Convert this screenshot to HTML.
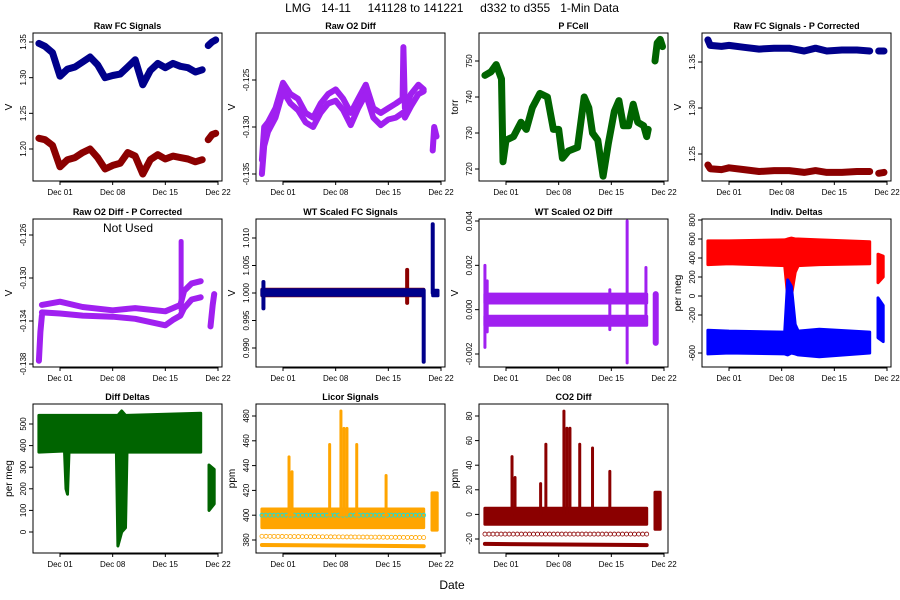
<!DOCTYPE html>
<html><head><meta charset="utf-8"><style>
html,body{margin:0;padding:0;background:#fff}
svg{display:block}
text{font-family:"Liberation Sans",sans-serif;white-space:pre}
</style></head><body>
<svg id="chart" width="900" height="600" xmlns="http://www.w3.org/2000/svg" xml:space="preserve">
<text x="452" y="12" font-size="12" text-anchor="middle" xml:space="preserve">LMG   14-11     141128 to 141221     d332 to d355   1-Min Data</text>
<text x="452" y="589" font-size="12" text-anchor="middle">Date</text>
</svg>
<script>
// shared x ticks (days since Dec 01)
const xTickDays=[0,7,14,21];
const xTickLabels=["Dec 01","Dec 08","Dec 15","Dec 22"];

// P1 Raw FC Signals
const p1Days=[-2.8,-2,-1,0,1,2,3,4,5,6,7,8,9,10,11,12,13,14,15,16,17,18,18.9];
const p1Blue=[1.348,1.344,1.335,1.302,1.312,1.315,1.322,1.329,1.318,1.300,1.303,1.305,1.315,1.325,1.290,1.310,1.320,1.314,1.320,1.316,1.314,1.308,1.311];
const p1Red=[1.215,1.213,1.205,1.175,1.185,1.188,1.195,1.200,1.188,1.172,1.177,1.180,1.195,1.190,1.165,1.185,1.192,1.186,1.190,1.188,1.186,1.182,1.185];
const p1Days2=[19.7,20.2,20.7];
const p1Blue2=[1.345,1.350,1.353];
const p1Red2=[1.213,1.220,1.222];
// P2 Raw O2 Diff
const p2Days=[-2.8,-2.5,-2,-1,0,1,2,3,4,5,6,7,8,9,10,11,12,13,14,15,15.9,16.0,16.2,17,18,18.7];
const p2Up=[-0.1335,-0.1300,-0.1295,-0.1280,-0.1253,-0.1265,-0.1270,-0.1285,-0.1290,-0.1275,-0.1265,-0.1260,-0.1270,-0.1285,-0.1270,-0.1255,-0.1280,-0.1285,-0.1280,-0.1275,-0.1270,-0.1215,-0.1280,-0.1265,-0.1255,-0.1260];
const p2Low=[-0.1350,-0.1320,-0.1305,-0.1290,-0.1262,-0.1275,-0.1282,-0.1295,-0.1300,-0.1285,-0.1275,-0.1272,-0.1282,-0.1298,-0.1280,-0.1265,-0.1290,-0.1298,-0.1292,-0.1290,-0.1285,-0.1285,-0.1290,-0.1278,-0.1265,-0.1262];
const p2Days2=[19.9,20.1,20.4];
const p2Vals2=[-0.1325,-0.1300,-0.1310];
// P3 P FCell
const p3Days=[-2.8,-2,-1.3,-0.6,-0.4,0,1,2,2.7,3.5,4.5,5.5,6.3,7,7.5,8.3,9.5,10.4,11,11.5,12.2,12.9,13.6,14.4,15,15.6,16.3,16.9,17.5,18.3,18.7,18.9];
const p3Vals=[746,747,749,745,722,728,729,733,731,737,741,740,731,731,723,725,726,740,737,730,728,718,727,736,739,732,732,738,733,732,729,731];
const p3Days2=[19.8,20.1,20.5,20.8];
const p3Vals2=[750,755,756,754];
// P4 Raw FC Signals - P Corrected
const p4Days=[-2.8,-2.5,-1,0,2,4,6,8,10,11.5,13,15,17,18.7];
const p4Blue=[1.374,1.368,1.367,1.368,1.366,1.364,1.365,1.365,1.362,1.365,1.362,1.363,1.363,1.362];
const p4Red=[1.238,1.234,1.233,1.235,1.233,1.231,1.232,1.232,1.230,1.232,1.230,1.230,1.231,1.231];
const p4Days2=[19.9,20.6];
const p4Blue2=[1.362,1.362];
const p4Red2=[1.229,1.230];
// P5 Raw O2 Diff - P Corrected
const p5Days=[-2.4,0,3,7,10,14,15,16,16.5,17.5,18.7];
const p5Up=[-0.1325,-0.1322,-0.1327,-0.1330,-0.1328,-0.1331,-0.1328,-0.1325,-0.1312,-0.1305,-0.1303];
const p5Low=[-0.1332,-0.1333,-0.1335,-0.1336,-0.1338,-0.1344,-0.1339,-0.1335,-0.1328,-0.1320,-0.1318];
const p5StartDays=[-2.8,-2.6,-2.4];
const p5StartVals=[-0.1377,-0.1350,-0.1335];
const p5SpikeDay=[16.1]; const p5SpikeLo=[-0.1330]; const p5SpikeHi=[-0.1266];
const p5Days2=[20.0,20.3,20.5];
const p5Vals2=[-0.1345,-0.1325,-0.1315];
// P6 WT Scaled FC
const p6BandDays=[-2.8,18.7]; const p6Lo=[0.9995,0.9995]; const p6Hi=[1.0007,1.0007];
const p6SpikeDays=[-2.6,16.5,18.7,19.9];
const p6SpikeLo=[0.9972,0.9982,0.9875,1.0000];
const p6SpikeHi=[1.0020,1.0042,1.0005,1.0125];
const p6SpikeCol=["b","r","b","b"];
const p6Days2=[19.9,20.6]; const p6Lo2=[0.9995,0.9995]; const p6Hi2=[1.0005,1.0005];
// P7 WT Scaled O2 Diff
const p7Days=[-2.8,18.7];
const p7UpLo=[0.0003,0.0003]; const p7UpHi=[0.0007,0.0007];
const p7LowLo=[-0.0007,-0.0007]; const p7LowHi=[-0.0003,-0.0003];
const p7SpikeDays=[-2.8,-2.5,13.8,16.1,18.6,19.9];
const p7SpikeLo=[-0.0017,-0.0010,-0.0009,-0.0024,-0.0006,-0.0015];
const p7SpikeHi=[0.0020,0.0013,0.0009,0.0040,0.0019,0.0007];
// P8 Indiv. Deltas
const p8Days=[-2.8,0,7.4,7.8,8.3,8.8,9.2,12,18.7];
const p8RedLo=[330,340,320,-10,0,250,320,330,340];
const p8RedHi=[580,580,590,600,610,600,600,590,570];
const p8BlueLo=[-610,-600,-610,-620,-600,-610,-620,-640,-600];
const p8BlueHi=[-360,-370,-380,170,100,-300,-370,-350,-380];
const p8Days2=[19.8,20.5]; const p8RedLo2=[140,200]; const p8RedHi2=[440,420];
const p8BlueLo2=[-440,-480]; const p8BlueHi2=[-20,-100];
// P9 Diff Deltas
const p9Days=[-2.8,0.6,0.8,1.0,1.2,7.5,7.7,8.2,8.7,8.9,18.7];
const p9Lo=[370,375,200,175,370,370,-65,0,20,370,370];
const p9Hi=[540,540,540,540,540,540,540,560,540,540,550];
const p9Days2=[19.8,20.5]; const p9Lo2=[100,130]; const p9Hi2=[310,290];
// P10 Licor Signals
const p10Days=[-2.8,18.7];
const p10BandLo=[390,390]; const p10BandHi=[405,405];
const p10Line1=[383,382]; const p10Line2=[376,375];
const p10Cyan=[400,400];
const p10SpikeDays=[0.8,1.2,6.2,7.7,8.1,8.5,9.8,13.7];
const p10SpikeHi=[447,435,457,484,470,470,457,432];
const p10Days2=[19.8,20.5]; const p10Lo2=[388,388]; const p10Hi2=[418,418];
// P11 CO2 Diff
const p11Days=[-2.8,18.7];
const p11BandLo=[-8,-8]; const p11BandHi=[5,5];
const p11Line1=[-16,-16]; const p11Line2=[-24,-25];
const p11SpikeDays=[0.8,1.2,4.6,5.3,7.7,8.1,8.5,9.8,11.5,13.8];
const p11SpikeHi=[47,30,25,57,84,70,70,57,54,35];
const p11Days2=[19.8,20.5]; const p11Lo2=[-12,-12]; const p11Hi2=[18,18];

const NS="http://www.w3.org/2000/svg";
const svg=document.getElementById('chart');
function mk(tag,attrs,parent){const e=document.createElementNS(NS,tag);for(const k in attrs)e.setAttribute(k,attrs[k]);(parent||svg).appendChild(e);return e;}
const COLX=[33,256,479,702], ROWY=[33,219,404], PW=189, PH=[148,148,149];
function xScale(col){const L=COLX[col];return d=>L+27+d*(158/21);}
function panel(name,col,row,title,ylab,ticks,tickLabels,ya,va,yb,vb){
  const g=mk('g',{});
  
  
  const L=COLX[col],T=ROWY[row],H=PH[row];
  const x=xScale(col);
  const y=v=>ya+(v-va)*(yb-ya)/(vb-va);
  const plot=mk('g',{},g);
  
  
  const frame=mk('rect',{x:L,y:T,width:PW,height:H,fill:'none',stroke:'#000','stroke-width':1},g);
  
  
  const t=mk('text',{x:L+PW/2,y:T-4,'font-size':9,'font-weight':'bold','text-anchor':'middle'},g);
  
  
  t.textContent=title;
  const yl=mk('text',{x:0,y:0,'font-size':10,'text-anchor':'middle',transform:`translate(${L-21},${T+H/2}) rotate(-90)`},g);
  
  
  yl.textContent=ylab;
  const yax=mk('g',{},g);
  
  
  ticks.forEach((v,i)=>{const yy=y(v);
    mk('line',{x1:L-4,x2:L,y1:yy,y2:yy,stroke:'#000'},yax);
    const tl=mk('text',{x:0,y:0,'font-size':8,'text-anchor':'middle',transform:`translate(${L-7},${yy}) rotate(-90)`},yax);
    
    
    tl.textContent=tickLabels[i];});
  const xax=mk('g',{},g);
  
  
  mk('line',{x1:x(xTickDays[0]),x2:x(xTickDays[xTickDays.length-1]),y1:T+H+1,y2:T+H+1,stroke:'#000'},xax);
  xTickDays.forEach((d,i)=>{const xx=x(d);
    mk('line',{x1:xx,x2:xx,y1:T+H,y2:T+H+4,stroke:'#000'},xax);
    const tl=mk('text',{x:xx,y:T+H+14,'font-size':8,'text-anchor':'middle'},xax);
    
    
    tl.textContent=xTickLabels[i];});
  return {g:plot,x,y};
}
function line(P,name,days,vals,color,w){
  const pts=days.map((d,i)=>P.x(d).toFixed(1)+','+P.y(vals[i]).toFixed(1)).join(' ');
  const e=mk('polyline',{points:pts,fill:'none',stroke:color,'stroke-width':w,'stroke-linecap':'round','stroke-linejoin':'round'},P.g);
  
  
}
function band(P,name,days,lo,hi,color,op){
  const top=days.map((d,i)=>P.x(d).toFixed(1)+','+P.y(hi[i]).toFixed(1));
  const bot=days.map((d,i)=>P.x(d).toFixed(1)+','+P.y(lo[i]).toFixed(1)).reverse();
  const e=mk('polygon',{points:top.concat(bot).join(' '),fill:color,stroke:color,'stroke-width':3,'stroke-linejoin':'round','fill-opacity':op||1},P.g);
  
  
}
function spike(P,name,d,lo,hi,color,w){
  const e=mk('line',{x1:P.x(d),x2:P.x(d),y1:P.y(lo),y2:P.y(hi),stroke:color,'stroke-width':w||3,'stroke-linecap':'round'},P.g);
  
  
}
function dots(P,name,days,vals,color){
  const g=mk('g',{},P.g);
  
  
  for(let i=0;i<days.length-1;i++){
    const n=Math.max(2,Math.round((P.x(days[i+1])-P.x(days[i]))/4));
    for(let k=0;k<=n;k++){const f=k/n;
      mk('circle',{cx:P.x(days[i]+(days[i+1]-days[i])*f),cy:P.y(vals[i]+(vals[i+1]-vals[i])*f),r:2,fill:'none',stroke:color,'stroke-width':0.8},g);}
  }
}
const NAVY='#00008b',DRED='#8b0000',PUR='#a020f0',DGRN='#006400',ORG='#ffa500';

let P=panel('raw-fc-signals',0,0,'Raw FC Signals','V',[1.20,1.25,1.30,1.35],['1.20','1.25','1.30','1.35'],149,1.20,42,1.35);
line(P,'blue-series',p1Days,p1Blue,NAVY,7);line(P,'red-series',p1Days,p1Red,DRED,7);
line(P,'blue-series-2',p1Days2,p1Blue2,NAVY,7);line(P,'red-series-2',p1Days2,p1Red2,DRED,7);

P=panel('raw-o2-diff',1,0,'Raw O2 Diff','V',[-0.135,-0.130,-0.125],['-0.135','-0.130','-0.125'],174,-0.135,80,-0.125);
line(P,'upper-series',p2Days,p2Up,PUR,6);line(P,'lower-series',p2Days,p2Low,PUR,6);
line(P,'series-2',p2Days2,p2Vals2,PUR,6);

P=panel('p-fcell',2,0,'P FCell','torr',[720,730,740,750],['720','730','740','750'],169,720,61,750);
line(P,'pressure-series',p3Days,p3Vals,DGRN,7);line(P,'pressure-series-2',p3Days2,p3Vals2,DGRN,7);

P=panel('raw-fc-p-corrected',3,0,'Raw FC Signals - P Corrected','V',[1.25,1.30,1.35],['1.25','1.30','1.35'],154,1.25,62,1.35);
line(P,'blue-series',p4Days,p4Blue,NAVY,7);line(P,'red-series',p4Days,p4Red,DRED,7);
line(P,'blue-series-2',p4Days2,p4Blue2,NAVY,7);line(P,'red-series-2',p4Days2,p4Red2,DRED,7);

P=panel('raw-o2-diff-p-corrected',0,1,'Raw O2 Diff - P Corrected','V',[-0.138,-0.134,-0.130,-0.126],['-0.138','-0.134','-0.130','-0.126'],364,-0.138,235,-0.126);
line(P,'upper-series',p5Days,p5Up,PUR,6);line(P,'lower-series',p5Days,p5Low,PUR,6);
line(P,'start-series',p5StartDays,p5StartVals,PUR,6);
p5SpikeDay.forEach((d,i)=>spike(P,'spike',d,p5SpikeLo[i],p5SpikeHi[i],PUR,5));
line(P,'series-2',p5Days2,p5Vals2,PUR,6);
const nu=mk('text',{x:128,y:232,'font-size':12,'text-anchor':'middle'});


nu.textContent='Not Used';

P=panel('wt-scaled-fc-signals',1,1,'WT Scaled FC Signals','V',[0.990,0.995,1.000,1.005,1.010],['0.990','0.995','1.000','1.005','1.010'],348,0.990,238,1.010);
band(P,'red-band',p6BandDays,p6Lo,p6Hi,DRED);
p6SpikeDays.forEach((d,i)=>spike(P,'spike',d,p6SpikeLo[i],p6SpikeHi[i],p6SpikeCol[i]=='r'?DRED:NAVY,4));
band(P,'blue-band',p6BandDays,p6Lo.map(v=>v+0.0001),p6Hi.map(v=>v-0.0001),NAVY);
band(P,'band-2',p6Days2,p6Lo2,p6Hi2,NAVY);

P=panel('wt-scaled-o2-diff',2,1,'WT Scaled O2 Diff','V',[-0.002,0.000,0.002,0.004],['-0.002','0.000','0.002','0.004'],354,-0.002,221,0.004);
band(P,'upper-band',p7Days,p7UpLo,p7UpHi,PUR);band(P,'lower-band',p7Days,p7LowLo,p7LowHi,PUR);
p7SpikeDays.forEach((d,i)=>spike(P,'spike',d,p7SpikeLo[i],p7SpikeHi[i],PUR,d>19?6:3));

P=panel('indiv-deltas',3,1,'Indiv. Deltas','per meg',[-600,-200,0,200,400,600,800],['-600','-200','0','200','400','600','800'],353,-600,220,800);
band(P,'red-band',p8Days,p8RedLo,p8RedHi,'#ff0000');band(P,'blue-band',p8Days,p8BlueLo,p8BlueHi,'#0000ff');
band(P,'red-band-2',p8Days2,p8RedLo2,p8RedHi2,'#ff0000');band(P,'blue-band-2',p8Days2,p8BlueLo2,p8BlueHi2,'#0000ff');

P=panel('diff-deltas',0,2,'Diff Deltas','per meg',[0,100,200,300,400,500],['0','100','200','300','400','500'],532,0,424,500);
band(P,'green-band',p9Days,p9Lo,p9Hi,DGRN);band(P,'green-band-2',p9Days2,p9Lo2,p9Hi2,DGRN);

P=panel('licor-signals',1,2,'Licor Signals','ppm',[380,400,420,440,460,480],['380','400','420','440','460','480'],540,380,416,480);
band(P,'orange-band',p10Days,p10BandLo,p10BandHi,ORG);
dots(P,'orange-line-1',p10Days,p10Line1,ORG);line(P,'orange-line-2',p10Days,p10Line2,ORG,4);
dots(P,'cyan-series',p10Days,p10Cyan,'#00e5ee');
p10SpikeDays.forEach((d,i)=>spike(P,'spike',d,400,p10SpikeHi[i],ORG,3));
band(P,'orange-band-2',p10Days2,p10Lo2,p10Hi2,ORG);

P=panel('co2-diff',2,2,'CO2 Diff','ppm',[-20,0,20,40,60,80],['-20','0','20','40','60','80'],539,-20,416,80);
band(P,'co2-band',p11Days,p11BandLo,p11BandHi,DRED);
dots(P,'co2-line-1',p11Days,p11Line1,DRED);line(P,'co2-line-2',p11Days,p11Line2,DRED,4);
p11SpikeDays.forEach((d,i)=>spike(P,'spike',d,0,p11SpikeHi[i],DRED,3));
band(P,'co2-band-2',p11Days2,p11Lo2,p11Hi2,DRED);
</script>
</body></html>
